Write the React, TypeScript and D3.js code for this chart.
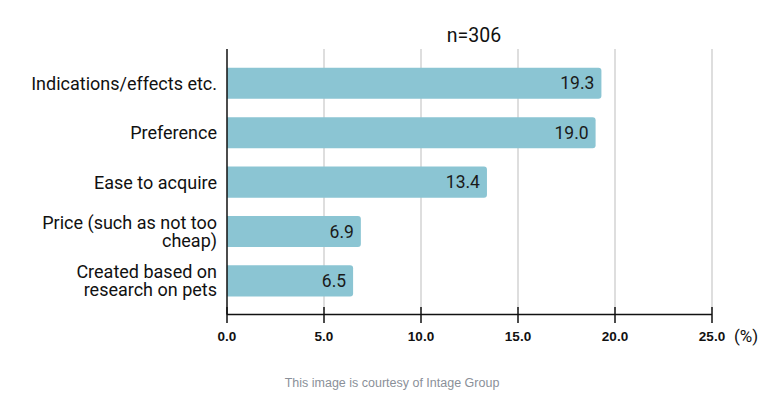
import React from 'react';
import * as d3 from 'd3';

// 항목과 값
const categories: string[][] = [
  ['Indications/effects etc.'],
  ['Preference'],
  ['Ease to acquire'],
  ['Price (such as not too', 'cheap)'],
  ['Created based on', 'research on pets'],
];
const values = [19.3, 19.0, 13.4, 6.9, 6.5];
const ticks = [0, 5, 10, 15, 20, 25];
const title = 'n=306';
const footer = 'This image is courtesy of Intage Group';

const BAR_COLOR = '#8bc5d3';
const WIDTH = 774;
const HEIGHT = 402;

export default function App() {
  const x = d3.scaleLinear().domain([0, 25]).range([227, 712]);
  const y = d3
    .scaleBand<number>()
    .domain(d3.range(values.length))
    .range([58.6, 305.6])
    .paddingInner(0.37)
    .paddingOuter(0.185);

  const axisY = 314.5;
  const top = 49;
  const r = 3;

  // 오른쪽만 둥근 막대
  const barPath = (x0: number, x1: number, y0: number, h: number) => {
    const p = d3.path();
    p.moveTo(x0, y0);
    p.lineTo(x1 - r, y0);
    p.arcTo(x1, y0, x1, y0 + r, r);
    p.lineTo(x1, y0 + h - r);
    p.arcTo(x1, y0 + h, x1 - r, y0 + h, r);
    p.lineTo(x0, y0 + h);
    p.closePath();
    return p.toString();
  };

  return (
    <svg
      width={WIDTH}
      height={HEIGHT}
      style={{ position: 'absolute', left: 0, top: 0, background: '#fff' }}
    >
      <rect width={WIDTH} height={HEIGHT} fill="#fff" />
      <text
        x={474}
        y={35}
        textAnchor="middle"
        dominantBaseline="central"
        fontFamily="Roboto"
        fontSize={19.5}
        fill="#111"
      >
        {title}
      </text>

      {/* 격자선 */}
      {ticks.slice(1).map((t) => (
        <line
          key={t}
          x1={x(t)}
          x2={x(t)}
          y1={top}
          y2={310}
          stroke="#cccccc"
          strokeWidth={1.3}
        />
      ))}

      {/* 막대 */}
      {values.map((v, i) => {
        const y0 = y(i)!;
        const h = y.bandwidth();
        return (
          <g key={i}>
            <path d={barPath(x(0), x(v), y0, h)} fill={BAR_COLOR} />
            <text
              x={x(v) - 7}
              y={y0 + h / 2}
              textAnchor="end"
              dominantBaseline="central"
              fontFamily="Roboto"
              fontSize={17.5}
              fill="#1a1a1a"
            >
              {v.toFixed(1)}
            </text>
          </g>
        );
      })}

      {/* 항목 라벨 */}
      {categories.map((lines, i) => {
        const cy = y(i)! + y.bandwidth() / 2;
        const lh = 18;
        const start = cy - ((lines.length - 1) * lh) / 2;
        return (
          <text
            key={i}
            textAnchor="end"
            fontFamily="Roboto"
            fontSize={18}
            fill="#111"
          >
            {lines.map((l, j) => (
              <tspan key={j} x={217} y={start + j * lh} dominantBaseline="central">
                {l}
              </tspan>
            ))}
          </text>
        );
      })}

      {/* 축 */}
      <line x1={x(0)} x2={x(0)} y1={top} y2={axisY} stroke="#111" strokeWidth={1.5} />
      <line x1={x(0)} x2={x(25)} y1={axisY} y2={axisY} stroke="#111" strokeWidth={1.5} />
      {ticks.map((t) => (
        <g key={t}>
          <line
            x1={x(t)}
            x2={x(t)}
            y1={307}
            y2={323}
            stroke="#111"
            strokeWidth={1.5}
          />
          <text
            x={x(t)}
            y={336}
            textAnchor="middle"
            dominantBaseline="central"
            fontFamily="Liberation Sans, Arial, sans-serif"
            fontWeight="bold"
            fontSize={13.5}
            fill="#111"
          >
            {t.toFixed(1)}
          </text>
        </g>
      ))}
      <text
        x={746}
        y={336}
        textAnchor="middle"
        dominantBaseline="central"
        fontFamily="Roboto"
        fontSize={17}
        fill="#111"
      >
        (%)
      </text>

      <text
        x={392}
        y={383}
        textAnchor="middle"
        dominantBaseline="central"
        fontFamily="Liberation Sans, Arial, sans-serif"
        fontSize={12.5}
        fill="#8a9099"
      >
        {footer}
      </text>
    </svg>
  );
}
